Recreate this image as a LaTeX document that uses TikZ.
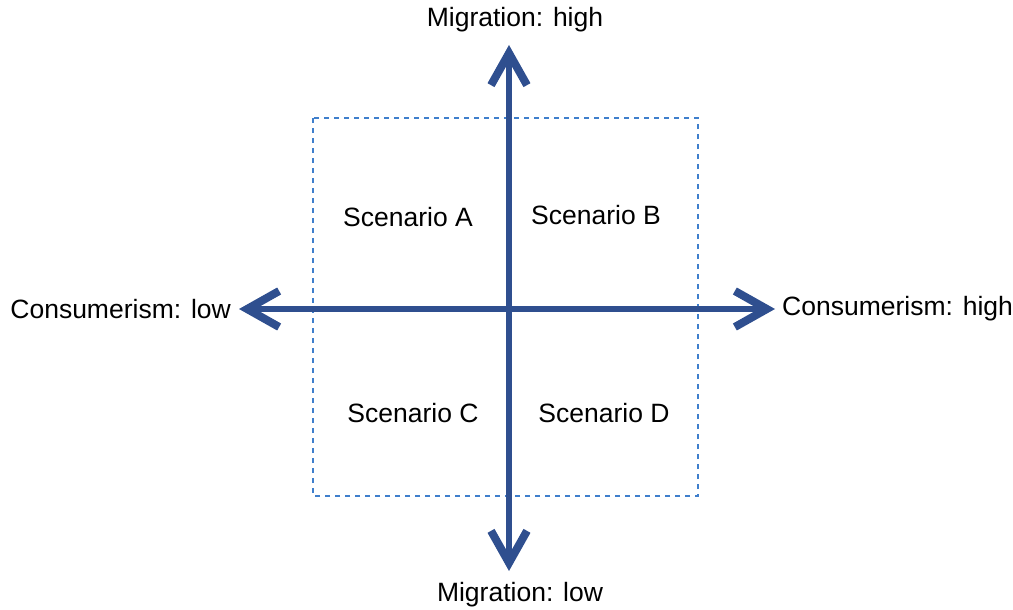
\documentclass[tikz,border=0pt]{standalone}
\usepackage{fontspec}
\setmainfont{Liberation Sans}
\usepackage{tikz}
\usetikzlibrary{positioning,arrows.meta}

\definecolor{axisblue}{HTML}{2F4F8F}
\definecolor{boxblue}{HTML}{3F7FCC}

\tikzset{
    barb/.tip={Straight Barb[length=32pt,width=36pt,line width=8pt,sharp]},
}

\begin{document}
\begin{tikzpicture}[x=1pt,y=-1pt,
    axis/.style={draw=axisblue,line width=6pt,barb-barb},
    label/.style={font=\fontsize{26.5}{31}\selectfont,inner sep=0pt}]

\useasboundingbox (0,0) rectangle (1013,610);

\draw[boxblue,line width=2.2pt,dash pattern=on 5pt off 5pt] (313,118) rectangle (698,496);

\coordinate (top) at (509,45);
\coordinate (bottom) at (509,571);
\coordinate (left) at (239,309);
\coordinate (right) at (775,309);

\draw[axis] (bottom) -- (top);
\draw[axis] (left) -- (right);

\node[label] (mighigh) at (515,20) {Migration: high};
\node[label] (miglow) at (520,595) {Migration: low};
\node[label,left=8pt of left] (conslow) {Consumerism: low};
\node[label,right=7pt of right] (conshigh) {Consumerism: high};

\foreach \name/\x/\y in {A/408/217, B/596/215, C/413/413, D/604/413} {
    \node[label] (sc\name) at (\x,\y) {Scenario \name};
}
\end{tikzpicture}
\end{document}
